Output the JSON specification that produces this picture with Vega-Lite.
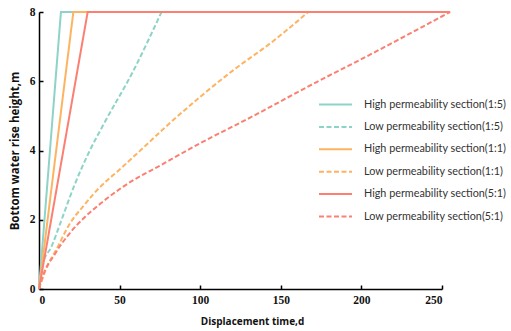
{
  "$schema": "https://vega.github.io/schema/vega-lite/v6.json",
  "width": 403,
  "height": 277,
  "autosize": {"type": "none"},
  "padding": {"left": 39, "top": 12, "right": 69, "bottom": 42},
  "background": "white",
  "config": {"view": {"stroke": null}},
  "data": {"values": [
    {"s": "High permeability section(1:5)", "t": 0, "h": 0},
    {"s": "High permeability section(1:5)", "t": 13.6, "h": 8},
    {"s": "High permeability section(1:5)", "t": 255, "h": 8},
    {"s": "Low permeability section(1:5)", "t": 0, "h": 0},
    {"s": "Low permeability section(1:5)", "t": 1.7, "h": 0.64},
    {"s": "Low permeability section(1:5)", "t": 8, "h": 1.25},
    {"s": "Low permeability section(1:5)", "t": 14, "h": 2.0},
    {"s": "Low permeability section(1:5)", "t": 22, "h": 3.0},
    {"s": "Low permeability section(1:5)", "t": 31, "h": 3.95},
    {"s": "Low permeability section(1:5)", "t": 40, "h": 4.75},
    {"s": "Low permeability section(1:5)", "t": 58.5, "h": 6.3},
    {"s": "Low permeability section(1:5)", "t": 76, "h": 8},
    {"s": "High permeability section(1:1)", "t": 0, "h": 0},
    {"s": "High permeability section(1:1)", "t": 21.3, "h": 8},
    {"s": "High permeability section(1:1)", "t": 255, "h": 8},
    {"s": "Low permeability section(1:1)", "t": 0, "h": 0},
    {"s": "Low permeability section(1:1)", "t": 3.7, "h": 0.5},
    {"s": "Low permeability section(1:1)", "t": 12, "h": 1.25},
    {"s": "Low permeability section(1:1)", "t": 18, "h": 1.8},
    {"s": "Low permeability section(1:1)", "t": 28.5, "h": 2.45},
    {"s": "Low permeability section(1:1)", "t": 38, "h": 2.95},
    {"s": "Low permeability section(1:1)", "t": 50, "h": 3.45},
    {"s": "Low permeability section(1:1)", "t": 64, "h": 4.05},
    {"s": "Low permeability section(1:1)", "t": 79, "h": 4.7},
    {"s": "Low permeability section(1:1)", "t": 100, "h": 5.55},
    {"s": "Low permeability section(1:1)", "t": 120, "h": 6.3},
    {"s": "Low permeability section(1:1)", "t": 145, "h": 7.15},
    {"s": "Low permeability section(1:1)", "t": 167, "h": 8},
    {"s": "High permeability section(5:1)", "t": 0, "h": 0},
    {"s": "High permeability section(5:1)", "t": 30.2, "h": 8},
    {"s": "High permeability section(5:1)", "t": 255, "h": 8},
    {"s": "Low permeability section(5:1)", "t": 0, "h": 0},
    {"s": "Low permeability section(5:1)", "t": 1.7, "h": 0.28},
    {"s": "Low permeability section(5:1)", "t": 10, "h": 1.02},
    {"s": "Low permeability section(5:1)", "t": 18, "h": 1.55},
    {"s": "Low permeability section(5:1)", "t": 28.5, "h": 2.08},
    {"s": "Low permeability section(5:1)", "t": 39, "h": 2.5},
    {"s": "Low permeability section(5:1)", "t": 52, "h": 2.95},
    {"s": "Low permeability section(5:1)", "t": 78, "h": 3.64},
    {"s": "Low permeability section(5:1)", "t": 100, "h": 4.21},
    {"s": "Low permeability section(5:1)", "t": 131, "h": 4.95},
    {"s": "Low permeability section(5:1)", "t": 174, "h": 6.02},
    {"s": "Low permeability section(5:1)", "t": 193, "h": 6.47},
    {"s": "Low permeability section(5:1)", "t": 255, "h": 8}
  ]},
  "encoding": {
    "x": {"field": "t", "type": "quantitative",
      "scale": {"domain": [0, 250], "nice": false, "zero": true},
      "axis": {"values": [0, 50, 100, 150, 200, 250], "grid": false, "title": "Displacement time,d",
        "domainColor": "black", "domainWidth": 1.5, "tickColor": "black", "tickWidth": 1.5, "tickSize": -4,
        "labelFont": "Liberation Serif", "labelFontWeight": "bold", "labelFontSize": 11.5, "labelColor": "#111", "labelPadding": 9,
        "titleFont": "Open Sans", "titleFontWeight": "bold", "titleFontSize": 10, "titleColor": "#111", "titlePadding": 11, "titleX": 213}},
    "y": {"field": "h", "type": "quantitative",
      "scale": {"domain": [0, 8], "nice": false},
      "axis": {"values": [0, 2, 4, 6, 8], "grid": false, "title": "Bottom water rise height,m",
        "domainColor": "black", "domainWidth": 1.5, "tickColor": "black", "tickWidth": 1.5, "tickSize": -4,
        "labelFont": "Liberation Serif", "labelFontWeight": "bold", "labelFontSize": 11.5, "labelColor": "#111", "labelPadding": 8,
        "titleFont": "Open Sans", "titleFontWeight": "bold", "titleFontSize": 11.5, "titleColor": "#111", "titlePadding": 9}},
    "color": {"field": "s", "type": "nominal",
      "scale": {"domain": ["High permeability section(1:5)", "Low permeability section(1:5)", "High permeability section(1:1)", "Low permeability section(1:1)", "High permeability section(5:1)", "Low permeability section(5:1)"],
        "range": ["#8dd3c7", "#8dd3c7", "#fdb462", "#fdb462", "#fb8072", "#fb8072"]},
      "legend": {"title": null, "orient": "none", "legendX": 290, "legendY": 86,
        "symbolType": "M-3,0H3", "symbolSize": 121, "symbolStrokeWidth": 2,
        "labelFont": "Lato", "labelFontSize": 10.8, "labelColor": "#333", "labelOffset": 22, "rowPadding": 10.4, "labelLimit": 300}},
    "strokeDash": {"field": "s", "type": "nominal",
      "scale": {"domain": ["High permeability section(1:5)", "Low permeability section(1:5)", "High permeability section(1:1)", "Low permeability section(1:1)", "High permeability section(5:1)", "Low permeability section(5:1)"],
        "range": [[1, 0], [5, 2.5], [1, 0], [5, 2.5], [1, 0], [5, 2.5]]}},
    "order": {"field": "t", "type": "quantitative"}
  },
  "layer": [
    {"transform": [{"filter": "indexof(datum.s, 'Low') === 0"}],
     "mark": {"type": "line", "strokeWidth": 2, "clip": false, "interpolate": "monotone"}},
    {"transform": [{"filter": "indexof(datum.s, 'High') === 0"}],
     "mark": {"type": "line", "strokeWidth": 2, "clip": false}}
  ]
}
